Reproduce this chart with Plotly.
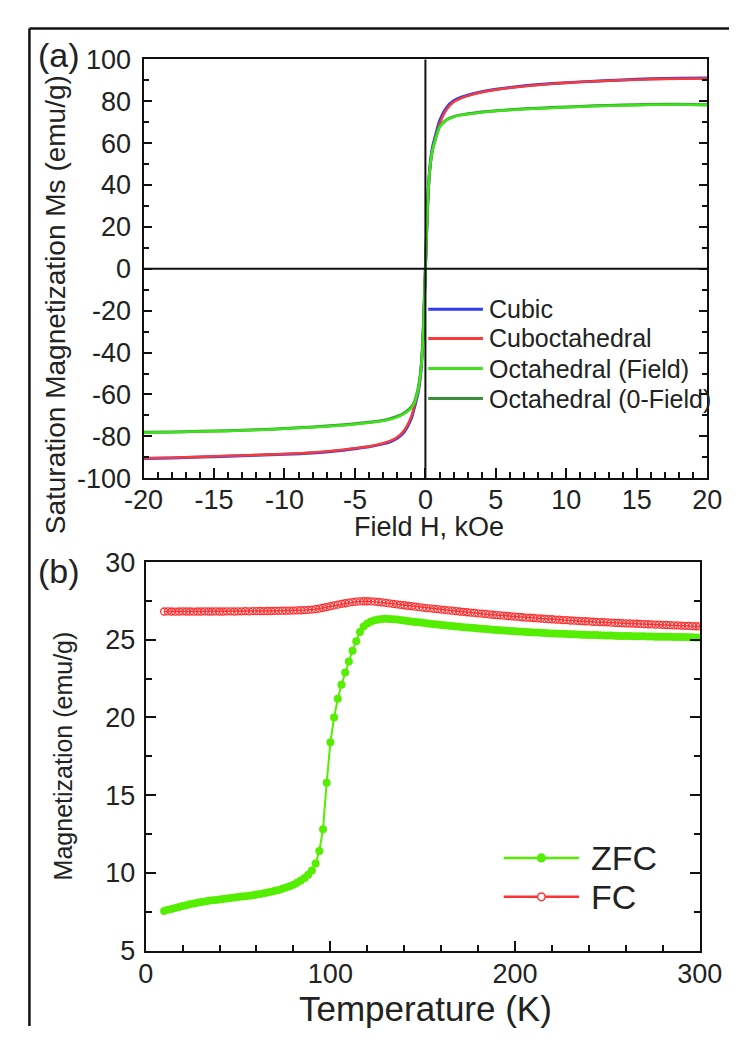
import plotly.graph_objects as go

# ---------------- (a) M(H) loops at room temperature ----------------
field_kOe = [-20, -18, -16, -14, -12, -10, -8, -6, -5, -4, -3, -2.5, -2, -1.5, -1.0,
             -0.75, -0.5, -0.35, -0.2, -0.1, 0, 0.1, 0.2, 0.35, 0.5, 0.75, 1.0, 1.5,
             2, 2.5, 3, 4, 5, 6, 8, 10, 12, 14, 16, 18, 20]

m_cubic = [-90.6, -90.3, -89.9, -89.5, -89.0, -88.6, -87.9, -86.7, -85.9, -85.0, -83.6,
           -82.6, -80.9, -77.8, -71.5, -65.5, -58.5, -51.0, -37.0, -19.5, 0.5, 19.5,
           36.5, 50.5, 58.0, 64.5, 70.5, 77.0, 80.2, 81.8, 82.9, 84.5, 85.7, 86.6, 88.0,
           88.9, 89.6, 90.2, 90.7, 91.0, 91.1]

m_cuboct = [-90.4, -90.2, -89.8, -89.3, -88.9, -88.4, -87.7, -86.5, -85.7, -84.8, -83.3,
            -82.2, -80.4, -77.1, -70.5, -64.5, -57.5, -50.0, -36.0, -18.5, 0.0, 18.5,
            35.5, 49.5, 56.5, 63.0, 69.0, 76.0, 79.6, 81.4, 82.6, 84.3, 85.5, 86.4, 87.8,
            88.8, 89.5, 90.1, 90.5, 90.8, 90.9]

m_octa_field = [-78.2, -78.0, -77.7, -77.4, -77.0, -76.4, -75.7, -74.8, -74.2, -73.5, -72.6,
                -71.9, -70.8, -69.2, -66.5, -63.5, -57.0, -50.5, -37.5, -20.5, 0.0, 20.0,
                37.0, 50.0, 56.5, 62.5, 67.5, 71.0, 72.5, 73.3, 73.8, 74.7, 75.3, 75.8,
                76.5, 77.1, 77.6, 78.0, 78.3, 78.5, 78.2]

m_octa_zero = [-78.0, -77.9, -77.6, -77.3, -76.8, -76.3, -75.5, -74.6, -74.0, -73.3, -72.4,
               -71.6, -70.5, -68.8, -66.0, -63.0, -56.5, -50.0, -37.0, -20.0, 0.3, 20.3,
               37.3, 50.3, 56.8, 62.8, 67.8, 71.2, 72.7, 73.5, 74.0, 74.9, 75.5, 76.0,
               76.7, 77.3, 77.8, 78.2, 78.5, 78.6, 78.3]

loop_names = ["Cubic", "Cuboctahedral", "Octahedral (Field)", "Octahedral (0-Field)"]
loop_colors = ["#2f3cf2", "#f73a3a", "#3ee31c", "#3a8f3a"]

field_ticks = [-20, -15, -10, -5, 0, 5, 10, 15, 20]
field_tick_labels = ["-20", "-15", "-10", "-5", "0", "5", "10", "15", "20"]
ms_ticks = [-100, -80, -60, -40, -20, 0, 20, 40, 60, 80, 100]
ms_tick_labels = ["-100", "-80", "-60", "-40", "-20", "0", "20", "40", "60", "80", "100"]

# ---------------- (b) ZFC / FC magnetization vs temperature ----------------
temperature_K = [
    10, 12, 14, 16, 18, 20, 22, 24, 26, 28,
    30, 32, 34, 36, 38, 40, 42, 44, 46, 48,
    50, 52, 54, 56, 58, 60, 62, 64, 66, 68,
    70, 72, 74, 76, 78, 80, 82, 84, 86, 88,
    90, 92, 94, 96, 98, 100, 102, 104, 106, 108,
    110, 112, 114, 116, 118, 120, 122, 124, 126, 128,
    130, 132, 134, 136, 138, 140, 142, 144, 146, 148,
    150, 152, 154, 156, 158, 160, 162, 164, 166, 168,
    170, 172, 174, 176, 178, 180, 182, 184, 186, 188,
    190, 192, 194, 196, 198, 200, 202, 204, 206, 208,
    210, 212, 214, 216, 218, 220, 222, 224, 226, 228,
    230, 232, 234, 236, 238, 240, 242, 244, 246, 248,
    250, 252, 254, 256, 258, 260, 262, 264, 266, 268,
    270, 272, 274, 276, 278, 280, 282, 284, 286, 288,
    290, 292, 294, 296, 298, 300]

m_zfc = [
    7.55, 7.62, 7.68, 7.74, 7.80, 7.86, 7.92, 7.98, 8.03, 8.08,
    8.12, 8.16, 8.20, 8.23, 8.26, 8.29, 8.32, 8.35, 8.38, 8.41,
    8.44, 8.47, 8.50, 8.53, 8.56, 8.60, 8.64, 8.68, 8.73, 8.78,
    8.84, 8.90, 8.97, 9.05, 9.14, 9.24, 9.36, 9.50, 9.67, 9.88,
    10.15, 10.60, 11.40, 12.80, 15.80, 18.40, 20.00, 21.20, 22.10, 22.90,
    23.60, 24.30, 24.90, 25.50, 25.85, 26.05, 26.18, 26.26, 26.31, 26.34,
    26.35, 26.34, 26.32, 26.30, 26.27, 26.24, 26.21, 26.18, 26.15, 26.12,
    26.09, 26.06, 26.03, 26.00, 25.98, 25.95, 25.93, 25.90, 25.88, 25.86,
    25.83, 25.81, 25.79, 25.77, 25.75, 25.73, 25.71, 25.69, 25.67, 25.65,
    25.63, 25.61, 25.60, 25.58, 25.56, 25.55, 25.53, 25.52, 25.50, 25.49,
    25.47, 25.46, 25.45, 25.43, 25.42, 25.41, 25.40, 25.39, 25.38, 25.37,
    25.36, 25.35, 25.34, 25.33, 25.32, 25.31, 25.30, 25.30, 25.29, 25.28,
    25.27, 25.27, 25.26, 25.25, 25.25, 25.24, 25.24, 25.23, 25.23, 25.22,
    25.22, 25.21, 25.21, 25.20, 25.20, 25.20, 25.19, 25.19, 25.18, 25.18,
    25.17, 25.17, 25.16, 25.16, 25.15, 25.15]

m_fc = [
    26.82, 26.83, 26.82, 26.81, 26.82, 26.83, 26.82, 26.82, 26.81, 26.82,
    26.82, 26.83, 26.82, 26.82, 26.83, 26.82, 26.82, 26.83, 26.83, 26.82,
    26.83, 26.83, 26.84, 26.83, 26.84, 26.84, 26.85, 26.84, 26.85, 26.85,
    26.86, 26.86, 26.87, 26.87, 26.88, 26.88, 26.89, 26.90, 26.91, 26.92,
    26.94, 26.97, 27.01, 27.06, 27.11, 27.16, 27.21, 27.26, 27.31, 27.35,
    27.39, 27.42, 27.45, 27.47, 27.48, 27.48, 27.47, 27.45, 27.43, 27.40,
    27.37, 27.34, 27.31, 27.28, 27.25, 27.22, 27.19, 27.16, 27.13, 27.10,
    27.07, 27.04, 27.02, 26.99, 26.97, 26.94, 26.92, 26.89, 26.87, 26.84,
    26.82, 26.80, 26.77, 26.75, 26.73, 26.70, 26.68, 26.66, 26.63, 26.61,
    26.59, 26.57, 26.55, 26.53, 26.51, 26.49, 26.47, 26.45, 26.43, 26.42,
    26.40, 26.38, 26.37, 26.35, 26.33, 26.32, 26.30, 26.29, 26.27, 26.26,
    26.24, 26.23, 26.22, 26.20, 26.19, 26.18, 26.16, 26.15, 26.14, 26.13,
    26.12, 26.10, 26.09, 26.08, 26.07, 26.06, 26.05, 26.04, 26.03, 26.02,
    26.01, 26.00, 25.99, 25.98, 25.97, 25.96, 25.95, 25.94, 25.93, 25.92,
    25.91, 25.90, 25.89, 25.88, 25.87, 25.86]

ZFC_COLOR = "#55ee00"
FC_COLOR = "#ff3333"

# ---------------- page geometry (pixels -> paper) ----------------
W, H = 752, 1041
FONT = "Arial, 'Liberation Sans', sans-serif"
TXT = "#222222"
INK = "#111111"


def px(x):
    return x / W


def py(y):
    return 1 - y / H


fig = go.Figure()

# loops: dark green underneath the bright green, blue underneath red
loop_series = [m_cubic, m_cuboct, m_octa_field, m_octa_zero]
for idx in [0, 1, 3, 2]:
    fig.add_trace(go.Scatter(
        x=field_kOe, y=loop_series[idx], mode="lines", name=loop_names[idx],
        line=dict(color=loop_colors[idx], width=3.0 if idx in (0, 3) else 2.5,
                  shape="spline", smoothing=0.6),
        xaxis="x", yaxis="y", showlegend=False))

fig.add_trace(go.Scatter(x=temperature_K, y=m_fc, mode="lines+markers", name="FC",
                         line=dict(color=FC_COLOR, width=1.5),
                         marker=dict(symbol="circle-open", size=7, color=FC_COLOR,
                                     line=dict(width=1.3, color=FC_COLOR)),
                         xaxis="x2", yaxis="y2", showlegend=False))
fig.add_trace(go.Scatter(x=temperature_K, y=m_zfc, mode="lines+markers", name="ZFC",
                         line=dict(color=ZFC_COLOR, width=2),
                         marker=dict(symbol="circle", size=8, color=ZFC_COLOR),
                         xaxis="x2", yaxis="y2", showlegend=False))

axis_common = dict(showline=True, linecolor=INK, linewidth=2, showgrid=False,
                   zeroline=False, ticks="inside", tickcolor=INK, tickwidth=1.6,
                   tickfont=dict(family=FONT, size=27, color=TXT))

fig.update_layout(
    width=W, height=H, margin=dict(l=0, r=0, t=0, b=0),
    paper_bgcolor="white", plot_bgcolor="white", showlegend=False,
    xaxis=dict(domain=[px(131), px(729)], range=[-20, 20], anchor="y",
               tickmode="array", tickvals=field_ticks, ticktext=field_tick_labels,
               ticklen=10, mirror=True, ticklabelstandoff=-4,
               minor=dict(dtick=1, tick0=0, ticklen=6, ticks="inside", tickcolor=INK),
               **axis_common),
    yaxis=dict(domain=[py(477), py(45.7)], range=[-100, 100], anchor="x",
               tickmode="array", tickvals=ms_ticks, ticktext=ms_tick_labels,
               ticklen=8, mirror="ticks", ticklabelstandoff=5,
               minor=dict(dtick=10, tick0=0, ticklen=5, ticks="inside", tickcolor=INK),
               **axis_common),
    xaxis2=dict(domain=[px(133.3), px(721)], range=[0, 300], anchor="y2",
                tickmode="linear", tick0=0, dtick=100, ticklen=10, mirror=True,
                ticklabelstandoff=-2,
                minor=dict(dtick=20, ticklen=6, ticks="inside", tickcolor=INK),
                **axis_common),
    yaxis2=dict(domain=[py(963.3), py(563.3)], range=[5, 30], anchor="x2",
                tickmode="linear", tick0=5, dtick=5, ticklen=10, mirror="ticks",
                ticklabelstandoff=3,
                minor=dict(dtick=2.5, ticklen=6, ticks="inside", tickcolor=INK),
                **axis_common),
)

shapes = []
# outer frame: top and left edges run off the page
shapes.append(dict(type="line", xref="paper", yref="paper",
                   x0=px(10), x1=px(752), y0=py(14), y1=py(14),
                   line=dict(color=INK, width=2.5)))
shapes.append(dict(type="line", xref="paper", yref="paper",
                   x0=px(10), x1=px(10), y0=py(14), y1=py(1041),
                   line=dict(color=INK, width=2.5)))
# zero axes of the loop panel
shapes.append(dict(type="line", xref="x", yref="paper", x0=0, x1=0,
                   y0=py(477), y1=py(45.7), line=dict(color=INK, width=2)))
shapes.append(dict(type="line", xref="paper", yref="y", x0=px(131), x1=px(729),
                   y0=0, y1=0, line=dict(color=INK, width=2)))

annotations = []


def text(x, y, s, size, anchor="left", angle=0):
    annotations.append(dict(xref="paper", yref="paper", x=px(x), y=py(y), text=s,
                            showarrow=False, xanchor=anchor, yanchor="middle",
                            textangle=angle,
                            font=dict(family=FONT, size=size, color=TXT)))


# legend of panel (a)
legend_rows_a = [303, 333, 364, 395]
for name, col, yy in zip(loop_names, loop_colors, legend_rows_a):
    shapes.append(dict(type="line", xref="paper", yref="paper", x0=px(433), x1=px(491),
                       y0=py(yy), y1=py(yy), line=dict(color=col, width=3)))
    text(495, yy, name, 25)

# legend of panel (b)
for name, col, yy, filled in [("ZFC", ZFC_COLOR, 868, True), ("FC", FC_COLOR, 908, False)]:
    shapes.append(dict(type="line", xref="paper", yref="paper", x0=px(513), x1=px(593),
                       y0=py(yy), y1=py(yy), line=dict(color=col, width=2.5)))
    r = 4
    shapes.append(dict(type="circle", xref="paper", yref="paper",
                       x0=px(553 - r), x1=px(553 + r), y0=py(yy + r), y1=py(yy - r),
                       fillcolor=col if filled else "white",
                       line=dict(color=col, width=1.5)))
    text(603, yy, name, 34)

# panel tags and axis titles
text(17, 41, "(a)", 34)
text(17, 572, "(b)", 34)
text(38, 298, "Saturation Magnetization Ms (emu/g)", 28, anchor="center", angle=-90)
text(434, 527, "Field H, kOe", 27, anchor="center")
text(46, 763, "Magnetization (emu/g)", 25, anchor="center", angle=-90)
text(430, 1023, "Temperature (K)", 35, anchor="center")

fig.update_layout(shapes=shapes, annotations=annotations)

fig.write_html("out.html")
